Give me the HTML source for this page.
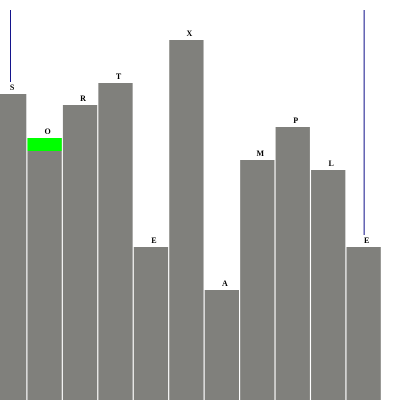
<!DOCTYPE html>
<html><head><meta charset="utf-8"><style>
html,body{margin:0;padding:0;background:#fff;}
svg{display:block}
text{font-family:"Liberation Serif",serif;font-weight:bold;font-size:8px;fill:#000}
</style></head><body>
<svg id="chart" width="400" height="400"></svg>
<script>
const letters = ["S","O","R","T","E","X","A","M","P","L","E"];
const values = [306, 262, 295, 317, 153, 360, 110, 240, 273, 230, 153];
const highlightIndex = [1];
const highlightSpan = [13];
const markerIndex = [0, 10];
const markerTop = [390, 390];

const NS = "http://www.w3.org/2000/svg";
const svg = document.getElementById("chart");
const x0 = -8, step = 35.45, bw = 34.3;
function xPos(i){ return x0 + i * step; }
function yPos(v){ return 400 - v; }

letters.forEach((l, i) => {
  const r = document.createElementNS(NS, "rect");
  r.setAttribute("x", xPos(i));
  r.setAttribute("y", yPos(values[i]));
  r.setAttribute("width", bw);
  r.setAttribute("height", values[i]);
  r.setAttribute("fill", "#80807c");
  
  
  svg.appendChild(r);
  const t = document.createElementNS(NS, "text");
  t.setAttribute("x", xPos(i) + bw / 2 + (i === 0 ? 3 : 3));
  t.setAttribute("y", yPos(values[i]) - 4);
  t.setAttribute("text-anchor", "middle");
  t.textContent = l;
  
  
  svg.appendChild(t);
});
highlightIndex.forEach((hi, k) => {
  const r = document.createElementNS(NS, "rect");
  r.setAttribute("x", xPos(hi));
  r.setAttribute("y", yPos(values[hi]));
  r.setAttribute("width", bw);
  r.setAttribute("height", highlightSpan[k]);
  r.setAttribute("fill", "#00ff00");
  
  
  svg.appendChild(r);
});
markerIndex.forEach((mi, k) => {
  const ln = document.createElementNS(NS, "line");
  const cx = mi === 0 ? 10.5 : xPos(mi) + bw / 2 + 0.5;
  ln.setAttribute("x1", cx); ln.setAttribute("x2", cx);
  ln.setAttribute("y1", yPos(markerTop[k]));
  ln.setAttribute("y2", yPos(values[mi]) - 12);
  ln.setAttribute("stroke", "#14148c");
  ln.setAttribute("stroke-width", "1");
  
  
  svg.appendChild(ln);
});
</script>
</body></html>
